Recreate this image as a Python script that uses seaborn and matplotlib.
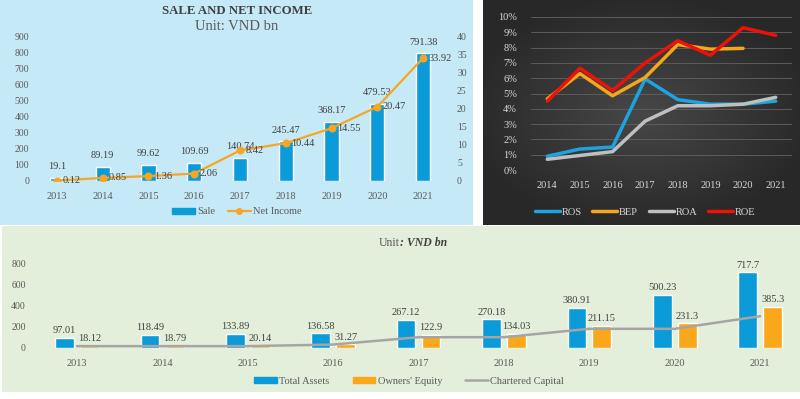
import numpy as np
import pandas as pd
import matplotlib.pyplot as plt
import seaborn as sns
from matplotlib.patches import Rectangle, Patch
from matplotlib.lines import Line2D
from matplotlib.colors import LinearSegmentedColormap

# data
years = [2013, 2014, 2015, 2016, 2017, 2018, 2019, 2020, 2021]
sale = [19.1, 89.19, 99.62, 109.69, 140.74, 245.47, 368.17, 479.53, 791.38]
net_income = [0.12, 0.85, 1.36, 2.06, 8.42, 10.44, 14.55, 20.47, 33.92]

ratio_years = [2014, 2015, 2016, 2017, 2018, 2019, 2020, 2021]
ros = [0.9, 1.37, 1.5, 5.95, 4.6, 4.3, 4.3, 4.5]
bep = [4.65, 6.3, 4.85, 6.05, 8.2, 7.9, 7.95, np.nan]
roa = [0.7, 0.95, 1.2, 3.2, 4.2, 4.2, 4.3, 4.75]
roe = [4.5, 6.65, 5.2, 7.0, 8.45, 7.5, 9.3, 8.8]

total_assets = [97.01, 118.49, 133.89, 136.58, 267.12, 270.18, 380.91, 500.23, 717.7]
owners_equity = [18.12, 18.79, 20.14, 31.27, 122.9, 134.03, 211.15, 231.3, 385.3]
chartered_capital = [15, 15, 15, 30, 100, 100, 180, 180, 300]

sns.set_style("white")
plt.rcParams['font.family'] = ['Liberation Serif', 'DejaVu Serif']

BLUE = '#0B9BD9'
ORANGE = '#F6A623'
GRAY_TXT = '#595959'
W, H = 800, 399

fig = plt.figure(figsize=(8, 3.99), dpi=100)


def fx(px):
    return px / W


def fy(py):
    return 1 - py / H


# panel backgrounds
fig.patches.append(Rectangle((0, fy(225)), fx(473), 225 / H, transform=fig.transFigure,
                             facecolor='#C6E9F8', edgecolor='none', zorder=-10))
fig.patches.append(Rectangle((fx(2), fy(392)), fx(798), 166 / H, transform=fig.transFigure,
                             facecolor='#E3EFDA', edgecolor='none', zorder=-10))

bg = fig.add_axes([fx(483), fy(225), fx(317), 225 / H])
bg.set_zorder(-5)
gx, gy = np.meshgrid(np.linspace(-1, 1, 200), np.linspace(-1, 1, 150))
shade = np.clip(1 - np.sqrt(gx ** 2 * 0.8 + gy ** 2 * 0.9), 0, 1)
cmap_bg = LinearSegmentedColormap.from_list('bg', ['#282828', '#474747'])
bg.imshow(shade, cmap=cmap_bg, aspect='auto', extent=(0, 1, 0, 1))
bg.set_axis_off()


def clean(ax, color):
    for s in ax.spines.values():
        s.set_visible(False)
    ax.tick_params(length=0, colors=color, labelsize=7)
    ax.set_xlabel('')
    ax.set_ylabel('')
    ax.set_facecolor('none')


# ---- panel 1: sale and net income
ax1 = fig.add_axes([fx(34), fy(181), fx(412), 145 / H])
sns.barplot(x=years, y=sale, native_scale=True, color=BLUE, width=0.31,
            saturation=1, ax=ax1)
ax1.bar_label(ax1.containers[0], fmt='{:g}', padding=5, fontsize=7.5, color='#404040')
ax1.set_xlim(2012.5, 2021.5)
ax1.set_ylim(0, 900)
ax1.set_yticks(range(0, 901, 100))
ax1.set_xticks(years)
clean(ax1, GRAY_TXT)
ax1.axhline(0, color='#D0D0D0', lw=0.8, zorder=0)
ax1.tick_params(axis='x', pad=8, labelsize=7.5)

ax1b = ax1.twinx()
sns.lineplot(x=years, y=net_income, color=ORANGE, marker='o', markersize=5,
             markeredgecolor=ORANGE, lw=1.6, ax=ax1b)
for x, v in zip(years, net_income):
    ax1b.text(x + 0.12, v, f'{v:g}', ha='left', va='center', fontsize=7.5, color='#404040')
ax1b.set_ylim(0, 40)
ax1b.set_yticks(range(0, 41, 5))
clean(ax1b, GRAY_TXT)
ax1b.tick_params(axis='y', pad=8)

fig.text(fx(237), fy(11), 'SALE AND NET INCOME', ha='center', va='center',
         fontsize=9.2, weight='bold', color='#404040')
fig.text(fx(237), fy(26), 'Unit: VND bn', ha='center', va='center',
         fontsize=10.5, color=GRAY_TXT)
fig.legend(handles=[Patch(color=BLUE, label='Sale'),
                    Line2D([], [], color=ORANGE, marker='o', markersize=4, lw=1.6, label='Net Income')],
           loc='center', bbox_to_anchor=(fx(237), fy(212)), ncol=2, frameon=False,
           fontsize=7.5, handlelength=2.2, handleheight=0.5, columnspacing=1.2,
           handletextpad=0.2, labelcolor=GRAY_TXT)

# ---- panel 2: ratios
ratios = pd.DataFrame({'year': ratio_years, 'ROS': ros, 'BEP': bep, 'ROA': roa, 'ROE': roe})
ratios_long = ratios.melt(id_vars='year', var_name='metric', value_name='value').dropna()
ratio_colors = {'ROS': '#1BA3E2', 'BEP': '#F6A51C', 'ROA': '#BFBFBF', 'ROE': '#EC1208'}

ax2 = fig.add_axes([fx(531), fy(170), fx(261), 153 / H])
sns.lineplot(data=ratios_long, x='year', y='value', hue='metric', palette=ratio_colors,
             lw=2.5, ax=ax2, legend=False)
ax2.set_xlim(2013.5, 2021.5)
ax2.set_ylim(0, 10)
ax2.set_yticks(range(0, 11))
ax2.set_yticklabels([f'{t}%' for t in range(0, 11)])
ax2.set_xticks(ratio_years)
clean(ax2, '#D9D9D9')
ax2.tick_params(axis='y', pad=10, labelsize=7.5)
ax2.tick_params(axis='x', pad=8, labelsize=7.5)
ax2.grid(axis='y', color='#5c5c5c', lw=0.7)
ax2.set_axisbelow(True)
fig.legend(handles=[Line2D([], [], color=ratio_colors[k], lw=2.5, label=k) for k in ratio_colors],
           loc='center', bbox_to_anchor=(fx(645), fy(212)), ncol=4, frameon=False,
           fontsize=7.5, handlelength=2.4, columnspacing=1.0, handletextpad=0.2,
           labelcolor='#D9D9D9')

# ---- panel 3: assets and equity
assets = pd.DataFrame({'year': years, 'Total Assets': total_assets, "Owners' Equity": owners_equity})
assets_long = assets.melt(id_vars='year', var_name='series', value_name='value')

ax3 = fig.add_axes([fx(34.3), fy(347.7), fx(766), 94.5 / H])
sns.barplot(data=assets_long, x='year', y='value', hue='series', native_scale=True,
            width=0.585, gap=0.25, palette=[BLUE, '#FBA71B'], saturation=1,
            ax=ax3, legend=False)
for c in ax3.containers:
    ax3.bar_label(c, fmt='{:g}', padding=2, fontsize=7.5, color='#404040')
sns.lineplot(x=years, y=chartered_capital, color='#A5A5A5', lw=1.8, ax=ax3)
ax3.set_xlim(2012.5, 2021.47)
ax3.set_ylim(0, 900)
ax3.set_yticks(range(0, 801, 200))
ax3.set_xticks(years)
clean(ax3, GRAY_TXT)
ax3.axhline(0, color='#D0D0D0', lw=0.8, zorder=0)
ax3.tick_params(axis='x', pad=8, labelsize=7.5)
ax3.tick_params(axis='y', pad=6)

fig.text(fx(400), fy(243), 'Unit', ha='right', va='center', fontsize=8.5, color=GRAY_TXT)
fig.text(fx(400), fy(243), ': VND bn', ha='left', va='center', fontsize=8.5,
         weight='bold', style='italic', color='#404040')
fig.legend(handles=[Patch(color=BLUE, label='Total Assets'),
                    Patch(color='#FBA71B', label="Owners' Equity"),
                    Line2D([], [], color='#A5A5A5', lw=1.8, label='Chartered Capital')],
           loc='center', bbox_to_anchor=(fx(409), fy(381)), ncol=3, frameon=False,
           fontsize=7.5, handlelength=2.2, handleheight=0.5, columnspacing=2.2,
           handletextpad=0.2, labelcolor=GRAY_TXT)

fig.savefig('out.png', dpi=100)
